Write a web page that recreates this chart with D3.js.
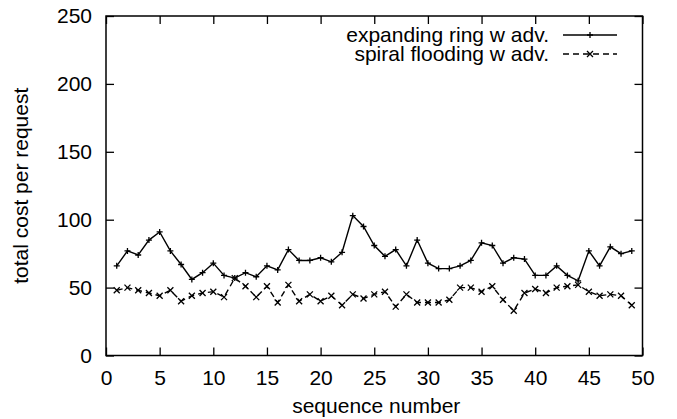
<html>
<script src='https://d3js.org/d3.v7.min.js'></script>
<style>
    body { margin: 0; background: white; }
    text { font-family: 'Liberation Sans', Arial, sans-serif; font-size: 21px; fill: black; }
</style>

<body onload='init()'>
    <svg width=677 height=419></svg>
    <script>
        // sequence numbers 1..49
        const seq = [1, 2, 3, 4, 5, 6, 7, 8, 9, 10, 11, 12, 13, 14, 15, 16, 17, 18, 19, 20,
            21, 22, 23, 24, 25, 26, 27, 28, 29, 30, 31, 32, 33, 34, 35, 36, 37, 38, 39, 40,
            41, 42, 43, 44, 45, 46, 47, 48, 49];
        const ringCost = [66, 77, 74, 85, 91, 77, 67, 56, 61, 68, 59, 57, 61, 58, 66, 63, 78, 70, 70, 72,
            69, 76, 103, 95, 81, 73, 78, 66, 85, 68, 64, 64, 66, 70, 83, 81, 68, 72, 71, 59,
            59, 66, 59, 55, 77, 66, 80, 75, 77];
        const spiralCost = [48, 50, 48, 46, 44, 48, 40, 44, 46, 47, 43, 57, 51, 43, 51, 39, 52, 40, 45, 40,
            44, 37, 45, 42, 45, 47, 36, 45, 39, 39, 39, 41, 50, 50, 47, 51, 41, 33, 46, 49,
            46, 50, 51, 52, 47, 44, 45, 44, 37];
        const seriesNames = ['expanding ring w adv.', 'spiral flooding w adv.'];
        const xTicks = [0, 5, 10, 15, 20, 25, 30, 35, 40, 45, 50];
        const yTicks = [0, 50, 100, 150, 200, 250];

        function init() {
            const svg = d3.select('svg');
            const left = 106, right = 642.5, top = 16, bottom = 355.5;
            let x = d3.scaleLinear().domain([0, 50]).range([left, right]);
            let y = d3.scaleLinear().domain([0, 250]).range([bottom, top]);

            // axes with inward ticks, mirrored on top/right
            svg.append('g').attr('transform', `translate(0,${bottom})`)
                .call(d3.axisBottom(x).tickValues(xTicks).tickSize(-8).tickPadding(15).tickFormat(d3.format('d')));
            svg.append('g').attr('transform', `translate(0,${top})`)
                .call(d3.axisTop(x).tickValues(xTicks).tickSize(-8).tickFormat(''));
            svg.append('g').attr('transform', `translate(${left},0)`)
                .call(d3.axisLeft(y).tickValues(yTicks).tickSize(-8).tickPadding(14).tickFormat(d3.format('d')));
            svg.append('g').attr('transform', `translate(${right},0)`)
                .call(d3.axisRight(y).tickValues(yTicks).tickSize(-8).tickFormat(''));
            svg.selectAll('.domain').remove();
            svg.selectAll('.tick line').attr('stroke', 'black').attr('stroke-width', 1.3);
            svg.selectAll('.tick text').style('font-size', '21px').attr('fill', 'black');

            svg.append('rect').attr('x', left).attr('y', top)
                .attr('width', right - left).attr('height', bottom - top)
                .attr('fill', 'none').attr('stroke', 'black').attr('stroke-width', 1.5);

            // axis titles
            svg.append('text').attr('x', (left + right) / 2 + 2).attr('y', 413)
                .attr('text-anchor', 'middle').text('sequence number');
            svg.append('text').attr('transform', `translate(28,${(top + bottom) / 2}) rotate(-90)`)
                .attr('text-anchor', 'middle').text('total cost per request');

            const plus = (g, cx, cy) => {
                g.append('path').attr('d', `M${cx - 3},${cy}H${cx + 3}M${cx},${cy - 3}V${cy + 3}`)
                    .attr('stroke', 'black').attr('stroke-width', 1.3);
            };
            const cross = (g, cx, cy) => {
                g.append('path').attr('d', `M${cx - 3},${cy - 3}L${cx + 3},${cy + 3}M${cx - 3},${cy + 3}L${cx + 3},${cy - 3}`)
                    .attr('stroke', 'black').attr('stroke-width', 1.3);
            };

            const line = d3.line().x(d => x(d[0])).y(d => y(d[1]));
            const ring = seq.map((s, i) => [s, ringCost[i]]);
            const spiral = seq.map((s, i) => [s, spiralCost[i]]);

            svg.append('path').datum(ring).attr('d', line)
                .attr('fill', 'none').attr('stroke', 'black').attr('stroke-width', 1.4);
            const gRing = svg.append('g');
            ring.forEach(d => plus(gRing, x(d[0]), y(d[1])));

            svg.append('path').datum(spiral).attr('d', line)
                .attr('fill', 'none').attr('stroke', 'black').attr('stroke-width', 1.4)
                .attr('stroke-dasharray', '6,4');
            const gSpiral = svg.append('g');
            spiral.forEach(d => cross(gSpiral, x(d[0]), y(d[1])));

            // legend
            const legY = [35, 54];
            const leg = svg.append('g');
            seriesNames.forEach((name, i) => {
                leg.append('text').attr('x', 549).attr('y', legY[i] + 6.5)
                    .attr('text-anchor', 'end').text(name);
                leg.append('line').attr('x1', 563).attr('x2', 617)
                    .attr('y1', legY[i]).attr('y2', legY[i])
                    .attr('stroke', 'black').attr('stroke-width', 1.4)
                    .attr('stroke-dasharray', i === 1 ? '6,4' : null);
                if (i === 0) plus(leg, 590, legY[i]); else cross(leg, 590, legY[i]);
            });
        }
    </script>
</body>

</html>
